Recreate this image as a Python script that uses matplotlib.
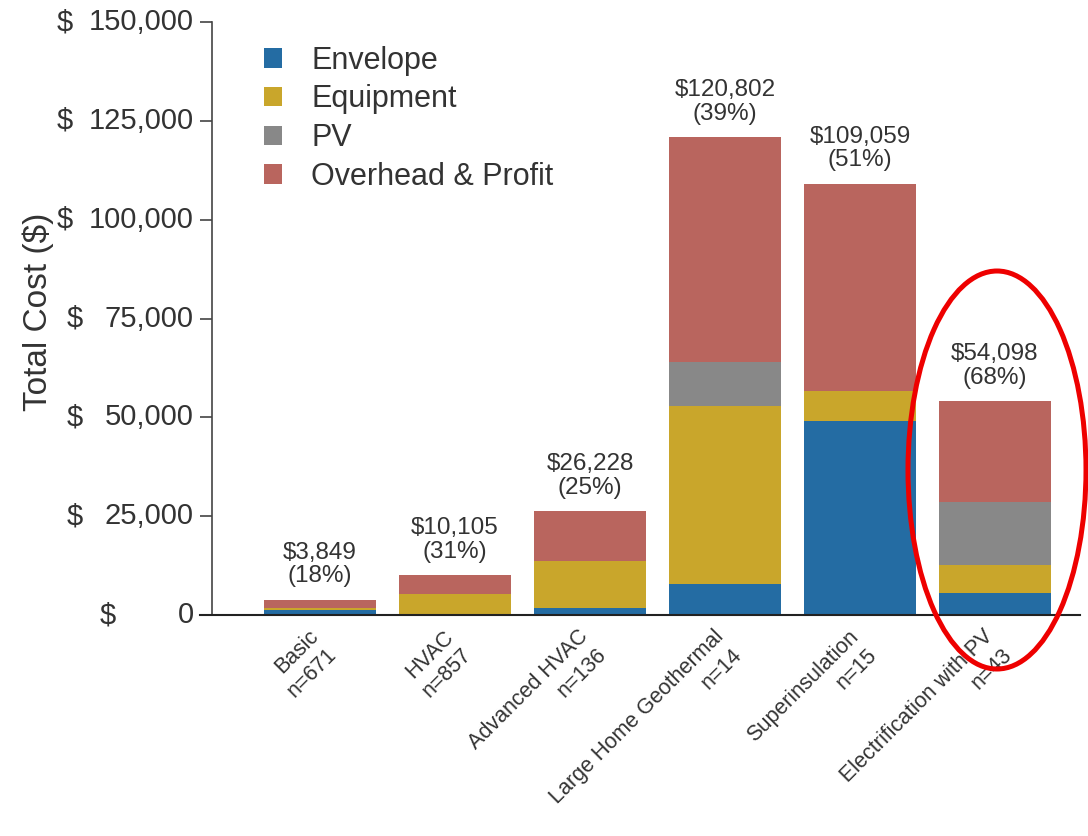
import matplotlib
matplotlib.use("Agg")
import matplotlib.pyplot as plt
import matplotlib.transforms as mtransforms
from matplotlib.patches import Ellipse, Patch
import numpy as np

plt.rcParams['font.family'] = ['Liberation Sans', 'DejaVu Sans']

categories = ["Basic\nn=671", "HVAC\nn=857", "Advanced HVAC\nn=136",
              "Large Home Geothermal\nn=14", "Superinsulation\nn=15",
              "Electrification with PV\nn=43"]
envelope = [1300, 200, 1800, 7850, 49100, 5570]
equipment = [500, 5000, 11900, 45050, 7600, 7080]
pv = [0, 0, 0, 11100, 0, 15950]
totals = [3849, 10105, 26228, 120802, 109059, 54098]
percents = ["18%", "31%", "25%", "39%", "51%", "68%"]
overhead = [t - e - q - p for t, e, q, p in zip(totals, envelope, equipment, pv)]
yticks = [0, 25000, 50000, 75000, 100000, 125000, 150000]
series_names = ["Envelope", "Equipment", "PV", "Overhead & Profit"]
colors = ["#246ca3", "#c9a62b", "#888888", "#b9655e"]

# pixel x of the "$" sign for each y tick label (style only)
dollar_px = [100, 67, 67, 67, 57, 57, 57]

W, H = 1088, 836
fig = plt.figure(figsize=(W / 100, H / 100), dpi=100)
ax = fig.add_axes([212 / W, 1 - 615 / H, (1080 - 212) / W, (615 - 22) / H])

x = np.arange(len(categories))
bottom = np.zeros(len(categories))
for vals, col in zip([envelope, equipment, pv, overhead], colors):
    ax.bar(x, vals, width=0.83, bottom=bottom, color=col, zorder=2)
    bottom += np.array(vals)

for xi, t, p in zip(x, totals, percents):
    ax.annotate(f"${t:,}\n({p})", (xi, t), xytext=(0, 9), textcoords="offset points",
                ha="center", va="bottom", fontsize=17.5, color="#333333", linespacing=1.1)

ax.set_xlim(-0.8, 5.63)
ax.set_ylim(0, 150000)
ax.set_yticks(yticks)
ax.set_yticklabels([])
ax.tick_params(axis='y', length=9, width=1.2, color="#444444")
ax.tick_params(axis='x', length=0, pad=8)
ax.set_xticks(x)
ax.set_xticklabels(categories, rotation=45, ha="right", va="top", rotation_mode="anchor",
                   fontsize=15.5, color="#333333", multialignment="right", linespacing=1.3)
offset = mtransforms.ScaledTranslation(-12 / 100, 0, fig.dpi_scale_trans)
for lab in ax.get_xticklabels():
    lab.set_transform(lab.get_transform() + offset)

for s in ["top", "right"]:
    ax.spines[s].set_visible(False)
ax.spines["left"].set_color("#444444")
ax.spines["left"].set_linewidth(1.2)
ax.spines["bottom"].set_color("#222222")
ax.spines["bottom"].set_linewidth(1.5)
ax.spines["bottom"].set_bounds(-0.89, 5.63)

trans = mtransforms.blended_transform_factory(fig.transFigure, ax.transData)
for v, dx in zip(yticks, dollar_px):
    fig.text(dx / W, v, "$", transform=trans, ha="left", va="center",
             fontsize=21, color="#333333")
    fig.text(194 / W, v, f"{v:,}", transform=trans, ha="right", va="center",
             fontsize=21, color="#333333")

fig.text(38 / W, 1 - 312 / H, "Total Cost ($)", rotation=90, ha="center", va="center",
         fontsize=24, color="#333333")

handles = [Patch(facecolor=c, edgecolor='none') for c in colors]
ax.legend(handles, series_names, loc="upper left", bbox_to_anchor=(0.028, 1.006), frameon=False,
          fontsize=22, handlelength=0.6, handleheight=0.6, labelspacing=0.28,
          handletextpad=0.95, labelcolor="#333333")

ell = Ellipse((997 / W, 1 - 470 / H), width=178 / W, height=398 / H, angle=0,
              transform=fig.transFigure, fill=False, edgecolor="#ee0000", linewidth=3.6, zorder=10)
fig.patches.append(ell)

fig.savefig("out.png", dpi=100)
